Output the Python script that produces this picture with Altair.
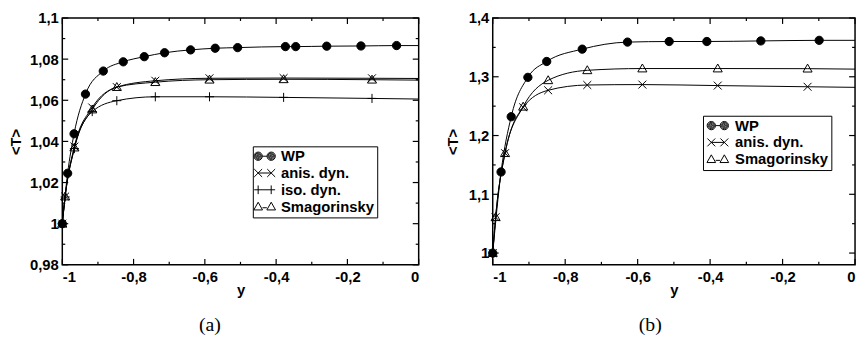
import altair as alt
import pandas as pd

# ---------------- data: panel (a) ----------------
a_wp_y = [-1.0, -0.985, -0.967, -0.935, -0.885, -0.829, -0.770, -0.713, -0.640,
          -0.571, -0.508, -0.374, -0.345, -0.258, -0.162, -0.062, 0.0]
a_wp_T = [1.0, 1.0245, 1.0437, 1.0630, 1.0742, 1.0787, 1.0812, 1.0831, 1.0845,
          1.0853, 1.0856, 1.0861, 1.0861, 1.0863, 1.0864, 1.0866, 1.0866]
les_y = [-1.0, -0.992, -0.966, -0.916, -0.847, -0.739, -0.587, -0.379, -0.131, 0.0]
a_anis_T = [1.0, 1.0132, 1.0375, 1.0565, 1.0664, 1.0695, 1.0707, 1.0708, 1.0707, 1.0706]
a_iso_T = [1.0, 1.0130, 1.0365, 1.0545, 1.0598, 1.0617, 1.0617, 1.0614, 1.0609, 1.0606]
a_smag_T = [1.0, 1.0132, 1.0370, 1.0555, 1.0664, 1.0688, 1.0700, 1.0702, 1.0700, 1.0698]

# ---------------- data: panel (b) ----------------
b_wp_y = [-1.0, -0.977, -0.949, -0.903, -0.851, -0.753, -0.628, -0.513, -0.409,
          -0.260, -0.099, 0.0]
b_wp_T = [1.0, 1.138, 1.232, 1.299, 1.326, 1.347, 1.359, 1.360, 1.360, 1.361, 1.362, 1.362]
b_anis_T = [1.0, 1.061, 1.170, 1.248, 1.277, 1.286, 1.2867, 1.285, 1.283, 1.282]
b_smag_T = [1.0, 1.061, 1.170, 1.249, 1.294, 1.311, 1.314, 1.314, 1.3138, 1.313]

# ---------------- ticks ----------------
x_major = [-1.0, -0.8, -0.6, -0.4, -0.2, 0.0]
x_minor = [-0.9, -0.7, -0.5, -0.3, -0.1]
a_y_major = [0.98, 1.0, 1.02, 1.04, 1.06, 1.08, 1.1]
a_y_minor = [0.99, 1.01, 1.03, 1.05, 1.07, 1.09]
b_y_major = [1.0, 1.1, 1.2, 1.3, 1.4]
b_y_minor = [1.05, 1.15, 1.25, 1.35]

WP, ANIS, ISO, SMAG = "WP", "anis. dyn.", "iso. dyn.", "Smagorinsky"

SINGLE = {
    WP: "M-1.05,0A1.05,1.05,0,1,0,1.05,0A1.05,1.05,0,1,0,-1.05,0Z",
    ANIS: "M-1,-1L1,1M-1,1L1,-1",
    ISO: "M-1.15,0L1.15,0M0,-1.15L0,1.15",
    SMAG: "M0,-1.15L1.15,0.85L-1.15,0.85Z",
}


def _disc(cx):
    parts = []
    for r in (1.05, 0.8, 0.55, 0.3, 0.08):
        parts.append(f"M{cx - r:.2f},0A{r},{r},0,1,0,{cx + r:.2f},0A{r},{r},0,1,0,{cx - r:.2f},0Z")
    return "".join(parts)


DOUBLE = {
    WP: _disc(-1.65) + _disc(1.65) + "M-0.6,0L0.6,0",
    ANIS: "M-2.65,-1L-0.65,1M-2.65,1L-0.65,-1M0.65,-1L2.65,1M0.65,1L2.65,-1M-1.65,0L1.65,0",
    ISO: "M-2.65,0L2.65,0M-1.65,-1.1L-1.65,1.1M1.65,-1.1L1.65,1.1",
    SMAG: "M-1.65,-1.1L-0.55,0.85L-2.75,0.85ZM1.65,-1.1L2.75,0.85L0.55,0.85ZM-0.55,0.3L0.55,0.3",
}
FILL = {WP: "black", ANIS: "transparent", ISO: "transparent", SMAG: "transparent"}

FONT = "Liberation Sans"
LBL = "replace(toString(datum.value), '.', ',')"


def series_df(items):
    rows = []
    for name, ys, ts in items:
        for yv, tv in zip(ys, ts):
            rows.append({"series": name, "y": yv, "T": tv, "marker": yv < 0})
    return pd.DataFrame(rows)


def panel(df, names, ydom, ymaj, ymin, W, H, leg, caption, cap_dx, tpad):
    xs = alt.Scale(domain=[-1, 0], nice=False, zero=False)
    ys = alt.Scale(domain=ydom, nice=False, zero=False)
    xax = alt.Axis(values=x_major, labelExpr=LBL, title="y")
    yax = alt.Axis(values=ymaj, labelExpr=LBL, title="<T>", titlePadding=tpad)

    lines = alt.Chart(df).mark_line(interpolate="monotone", color="black", strokeWidth=1).encode(
        x=alt.X("y:Q", scale=xs, axis=xax),
        y=alt.Y("T:Q", scale=ys, axis=yax),
        detail="series:N",
    )
    pts = alt.Chart(df).transform_filter("datum.marker").mark_point(
        filled=False, stroke="black", strokeWidth=1, size=64, opacity=1
    ).encode(
        x=alt.X("y:Q", scale=xs, axis=xax),
        y=alt.Y("T:Q", scale=ys, axis=yax),
        shape=alt.Shape("series:N", scale=alt.Scale(domain=names, range=[SINGLE[n] for n in names]), legend=None),
        fill=alt.Fill("series:N", scale=alt.Scale(domain=names, range=[FILL[n] for n in names]), legend=None),
    )
    legend = alt.Legend(
        title=None, orient="none",
        strokeColor="black", fillColor="white",
        labelFont=FONT, labelFontWeight="bold", labelFontSize=15, labelColor="black",
        symbolSize=64, symbolStrokeWidth=1, symbolStrokeColor="black", symbolOpacity=1,
        symbolFillColor="transparent", rowPadding=1, **leg,
    )
    lg = alt.Chart(pd.DataFrame({"series": names})).transform_filter("false").mark_point(
        filled=False, stroke="black", strokeWidth=1, opacity=1
    ).encode(
        shape=alt.Shape("series:N", scale=alt.Scale(domain=names, range=[DOUBLE[n] for n in names]), legend=legend),
    )

    def xticks(vals, length):
        d = alt.Chart(pd.DataFrame({"v": vals}))
        b = d.mark_rule(color="black", strokeWidth=1.2).encode(
            x=alt.X("v:Q", scale=xs, axis=xax), y=alt.value(H), y2=alt.value(H - length))
        t = d.mark_rule(color="black", strokeWidth=1.2).encode(
            x=alt.X("v:Q", scale=xs, axis=xax), y=alt.value(0), y2=alt.value(length))
        return [b, t]

    def yticks(vals, length):
        d = alt.Chart(pd.DataFrame({"v": vals}))
        l = d.mark_rule(color="black", strokeWidth=1.2).encode(
            y=alt.Y("v:Q", scale=ys, axis=yax), x=alt.value(0), x2=alt.value(length))
        r = d.mark_rule(color="black", strokeWidth=1.2).encode(
            y=alt.Y("v:Q", scale=ys, axis=yax), x=alt.value(W), x2=alt.value(W - length))
        return [l, r]

    layers = [lines] + xticks(x_major, 6) + xticks(x_minor, 3) + yticks(ymaj, 6) + yticks(ymin, 3) + [pts, lg]
    return alt.layer(*layers).resolve_scale(shape="independent", fill="independent").properties(
        width=W, height=H,
        title=alt.TitleParams(text=caption, orient="bottom", anchor="middle", frame="group",
                              dx=cap_dx, offset=18),
    )


df_a = series_df([(WP, a_wp_y, a_wp_T), (ANIS, les_y, a_anis_T), (ISO, les_y, a_iso_T), (SMAG, les_y, a_smag_T)])
df_b = series_df([(WP, b_wp_y, b_wp_T), (ANIS, les_y, b_anis_T), (SMAG, les_y, b_smag_T)])

left = panel(df_a, [WP, ANIS, ISO, SMAG], [0.98, 1.1], a_y_major, a_y_minor, 361, 250,
             dict(legendX=193, legendY=130, padding=2.5, symbolOffset=2, labelOffset=9,
                  labelExpr="datum.label + '\u00a0\u00a0'"),
             "(a)", -31, 6)
right = panel(df_b, [WP, ANIS, SMAG], [0.98, 1.4], b_y_major, b_y_minor, 367, 250,
              dict(legendX=213, legendY=99, padding=2.5, symbolOffset=5, labelOffset=10,
                   labelExpr="datum.label + '\u00a0\u00a0\u00a0\u00a0\u00a0\u00a0'"),
              "(b)", -24, 8)

chart = alt.hconcat(left, right, spacing=23).resolve_scale(
    x="independent", y="independent", shape="independent", fill="independent"
).resolve_legend(shape="independent").properties(padding=0).configure_view(
    stroke="black", strokeWidth=1.5
).configure_axis(
    ticks=False, domain=False, grid=False,
    labelFont=FONT, labelFontSize=15, labelFontWeight="bold", labelColor="black", labelPadding=4,
    titleFont=FONT, titleFontSize=15, titleFontWeight="bold", titleColor="black",
).configure_axisX(titlePadding=-2, labelPadding=5).configure_title(
    font="Liberation Serif", fontSize=20, fontWeight="normal", color="black"
)

chart.save("out.html", embed_options={"renderer": "svg", "actions": False})
